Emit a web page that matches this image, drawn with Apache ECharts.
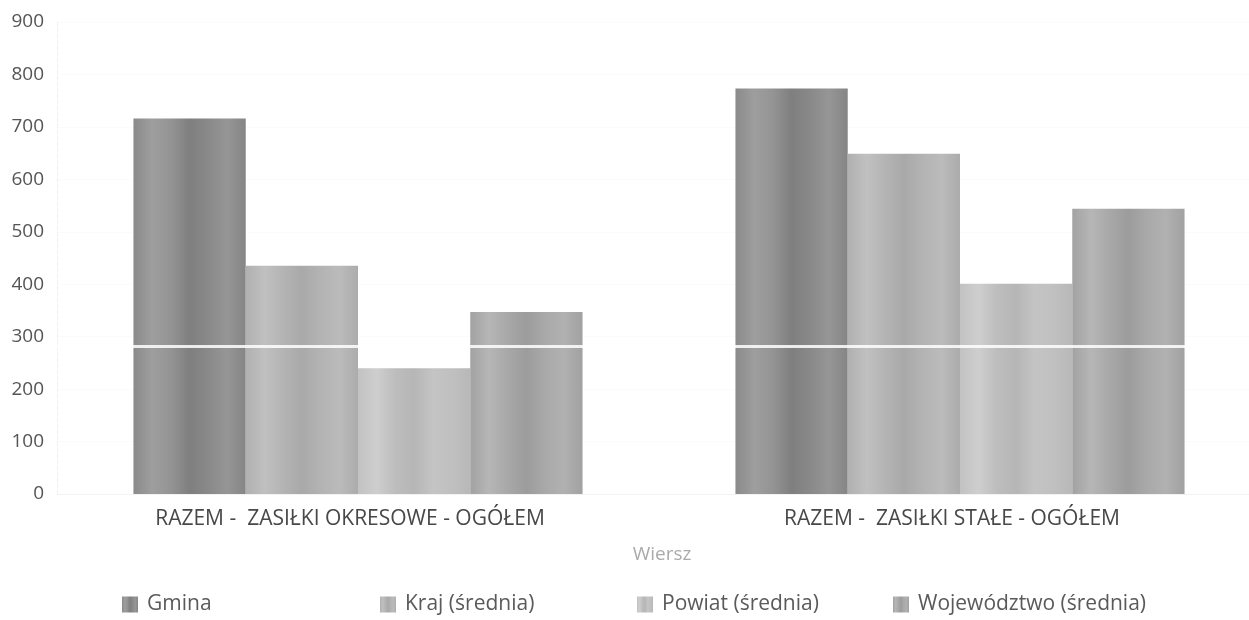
<!DOCTYPE html>
<html><head><meta charset="utf-8">
<script src="https://cdn.jsdelivr.net/npm/echarts@6/dist/echarts.min.js"></script>
<style>html,body{margin:0;padding:0;background:#fff;overflow:hidden}#c{width:1264px;height:620px}</style>
</head><body><div id="c"></div>
<script>
const categories = ["RAZEM -  ZASIŁKI OKRESOWE - OGÓŁEM", "RAZEM -  ZASIŁKI STAŁE - OGÓŁEM"];
const seriesNames = ["Gmina", "Kraj (średnia)", "Powiat (średnia)", "Województwo (średnia)"];
const gmina = [716, 773];
const kraj = [435, 649];
const powiat = [240, 401];
const wojewodztwo = [347, 544];
const yTicks = [0, 100, 200, 300, 400, 500, 600, 700, 800, 900];
const artifactLine = 282;

function grad(stops) {
  return new echarts.graphic.LinearGradient(0, 0, 1, 0, stops.map((c, i) => ({offset: i / (stops.length - 1), color: c})));
}
const fills = [
  grad(['#8a8a8a', '#9e9e9e', '#949494', '#7f7f7f', '#898989', '#969696', '#858585']),
  grad(['#b0b0b0', '#c0c0c0', '#b4b4b4', '#a9a9a9', '#b3b3b3', '#bbbbbb', '#acacac']),
  grad(['#c2c2c2', '#cecece', '#bdbdbd', '#b6b6b6', '#c4c4c4', '#c0c0c0', '#b8b8b8']),
  grad(['#a2a2a2', '#b6b6b6', '#a8a8a8', '#9c9c9c', '#a9a9a9', '#b1b1b1', '#a1a1a1'])
];
const dataSets = [gmina, kraj, powiat, wojewodztwo];
const legendLefts = [117, 375, 632, 888];

const chart = echarts.init(document.getElementById('c'), null, {renderer: 'canvas'});
const series = seriesNames.map((n, i) => {
  const s = {
    name: n, type: 'bar', data: dataSets[i],
    barGap: '0%', barCategoryGap: '25.4%',
    itemStyle: {color: fills[i]},
    emphasis: {disabled: true}, animation: false
  };
  if (i === 3) {
    s.markLine = {silent: true, symbol: 'none', label: {show: false},
      lineStyle: {color: '#ffffff', width: 3, type: 'solid', opacity: 0.85},
      data: [{yAxis: artifactLine}], animation: false};
  }
  return s;
});
chart.setOption({
  backgroundColor: '#fff',
  textStyle: {fontFamily: 'Open Sans'},
  grid: {left: 57, width: 1204, top: 22, bottom: 126, containLabel: false, outerBoundsMode: 'none'},
  legend: seriesNames.map((n, i) => ({
    top: 589, left: legendLefts[i], icon: 'rect', itemWidth: 16, itemHeight: 16, itemGap: 6,
    selectedMode: false,
    textStyle: {fontSize: 21, color: '#5a5a5a', fontFamily: 'Open Sans', padding: [0, 0, 0, 4]},
    data: [{name: n, itemStyle: {color: fills[i]}}]
  })),
  xAxis: {
    type: 'category', data: categories,
    name: 'Wiersz', nameLocation: 'middle', nameGap: 51,
    nameTextStyle: {fontSize: 19, color: '#aaaaaa', fontFamily: 'Open Sans', padding: [0, 0, 0, 6]},
    axisLine: {show: true, lineStyle: {color: '#f2f2f2'}},
    axisTick: {show: false},
    axisLabel: {fontSize: 21, color: '#484848', margin: 15, interval: 0, padding: [0, 16, 0, 0]}
  },
  yAxis: {
    type: 'value', min: yTicks[0], max: yTicks[yTicks.length - 1], interval: 100,
    axisLine: {show: true, lineStyle: {color: '#f0f0f0', type: 'dashed'}},
    axisTick: {show: false},
    splitLine: {show: true, lineStyle: {color: '#fbfbfb'}},
    axisLabel: {fontSize: 19, color: '#555', margin: 13}
  },
  series: series
});
</script></body></html>
